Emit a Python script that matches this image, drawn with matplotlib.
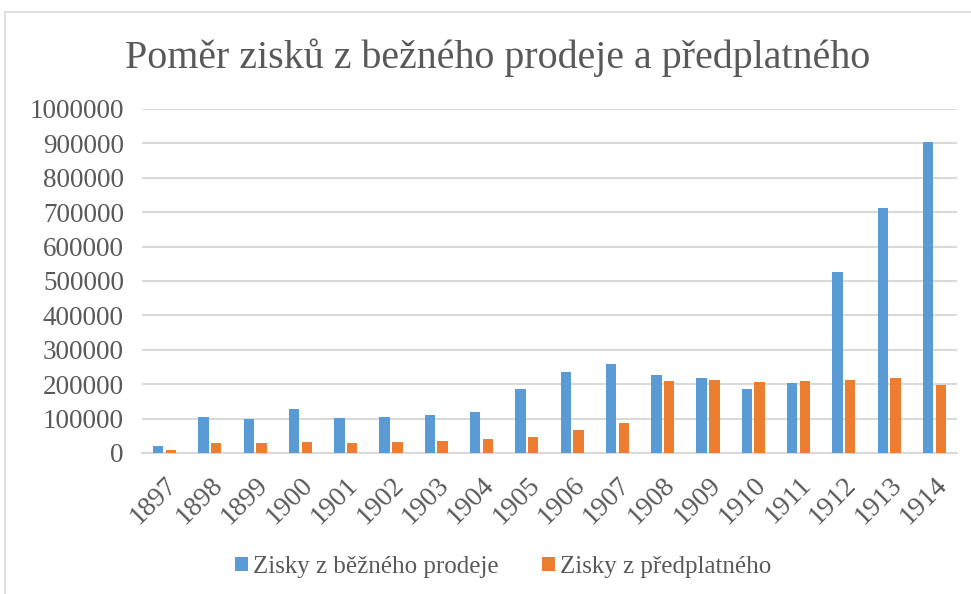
import numpy as np
import matplotlib
matplotlib.use("Agg")
import matplotlib.pyplot as plt
from matplotlib.lines import Line2D

plt.rcParams['font.family'] = ['Liberation Serif', 'DejaVu Serif']

# data
years = ["1897", "1898", "1899", "1900", "1901", "1902", "1903", "1904", "1905",
         "1906", "1907", "1908", "1909", "1910", "1911", "1912", "1913", "1914"]
bezny_prodej = [21000, 105000, 98000, 128000, 102000, 105000, 110000, 120000, 186000,
                236000, 259000, 228000, 217000, 187000, 202000, 525000, 713000, 905000]
predplatne = [9000, 28000, 30000, 32000, 30000, 32000, 34000, 41000, 46500,
              66000, 86000, 208000, 212000, 205000, 210000, 212000, 217000, 197000]

text_col = "#595959"
grid_col = "#D9D9D9"

fig = plt.figure(figsize=(9.71, 5.94), dpi=100)
ax = fig.add_axes([0.1462, 0.2374, 0.8394, 0.5791])

x = np.arange(len(years))
w = 0.23
ax.bar(x - 0.14, bezny_prodej, w, color="#5B9BD5", label="Zisky z běžného prodeje", zorder=3)
ax.bar(x + 0.14, predplatne, w, color="#ED7D31", label="Zisky z předplatného", zorder=3)

ax.set_xlim(-0.5, len(years) - 0.5)
ax.set_ylim(0, 1000000)
ax.set_yticks(np.arange(0, 1000001, 100000))
ax.set_yticklabels([str(v) for v in range(0, 1000001, 100000)])
ax.set_xticks(x)
ax.set_xticklabels(years, rotation=45, ha="right", va="top", rotation_mode="anchor")
ax.yaxis.grid(True, color=grid_col, linewidth=1.5, zorder=0)
ax.tick_params(axis="y", length=0, colors=text_col, labelsize=19.5, pad=13)
ax.tick_params(axis="x", length=0, colors=text_col, labelsize=20, pad=14)
for side in ["top", "right", "left"]:
    ax.spines[side].set_visible(False)
ax.spines["bottom"].set_color(grid_col)
ax.spines["bottom"].set_linewidth(1.5)

fig.text(0.512, 0.902, "Poměr zisků z bežného prodeje a předplatného",
         ha="center", va="center", fontsize=28.8, color=text_col)

ax.legend(loc="center", bbox_to_anchor=(0.443, -0.331), ncol=2, frameon=False,
          fontsize=18, labelcolor=text_col, handlelength=0.52, handleheight=0.52,
          handletextpad=0.2, columnspacing=1.72)

# chart frame (top and left edges visible in the reference)
fig.add_artist(Line2D([5 / 971, 1], [1 - 12 / 594, 1 - 12 / 594], color=grid_col, linewidth=1.2))
fig.add_artist(Line2D([5 / 971, 5 / 971], [0, 1 - 12 / 594], color=grid_col, linewidth=1.2))

fig.savefig("out.png", dpi=100)
